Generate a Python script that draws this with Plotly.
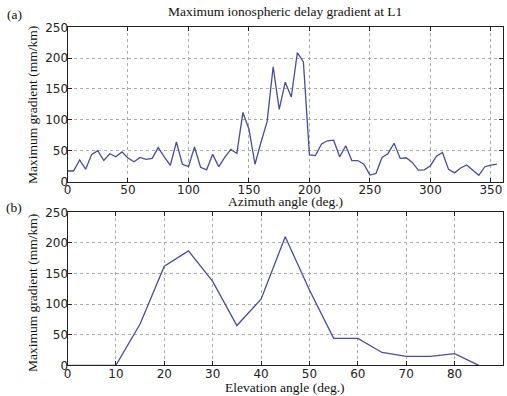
import plotly.graph_objects as go

azimuth = list(range(0, 360, 5))
grad_az = [17, 17, 35, 20, 44, 50, 34, 45, 40, 48, 38, 32, 39, 36, 37.5, 55, 40, 26,
           64, 28, 24, 56, 23, 19, 44, 24, 39, 52, 45.5, 112, 85, 28, 64, 97, 186, 117,
           161, 137, 209, 194, 43, 42, 61, 66, 67, 40, 58, 34, 34, 28, 10.5, 13, 39, 45.5,
           62, 37.5, 38.5, 31, 18.6, 19, 25.6, 41, 47, 19.7, 14, 22, 26.7, 18.6, 10, 24,
           26.7, 28]

elevation = [0, 5, 10, 15, 20, 25, 30, 35, 40, 45, 50, 55, 60, 65, 70, 75, 80, 85]
grad_el = [0, 0, 0, 67.5, 162, 187, 137, 65, 108, 210, 123, 44, 44, 21, 14.7, 14.7, 19, 0]

az_ticks = [0, 50, 100, 150, 200, 250, 300, 350]
el_ticks = [0, 10, 20, 30, 40, 50, 60, 70, 80, 90]
y_ticks = [0, 50, 100, 150, 200, 250]

W, H = 507, 396
line_color = "#4a4aa6"
serif = "Liberation Serif, Times New Roman, serif"
sans = "DejaVu Sans, sans-serif"

fig = go.Figure()
fig.add_trace(go.Scatter(x=azimuth, y=grad_az, mode="lines",
                         line=dict(color=line_color, width=1.3), xaxis="x", yaxis="y",
                         showlegend=False))
fig.add_trace(go.Scatter(x=elevation, y=grad_el, mode="lines",
                         line=dict(color=line_color, width=1.3), xaxis="x2", yaxis="y2",
                         showlegend=False))

xdom = [67.5 / W, 503 / W]
ydom1 = [1 - 181.5 / H, 1 - 27.3 / H]
ydom2 = [1 - 365.3 / H, 1 - 212.3 / H]

common = dict(showline=True, linecolor="#222", linewidth=1, mirror="ticks",
              ticks="inside", ticklen=4, tickcolor="#222",
              showgrid=True, gridcolor="#aaaaaa", griddash="dot", gridwidth=1,
              zeroline=False, automargin=False,
              tickfont=dict(family=sans, size=12, color="#222"))

fig.update_layout(
    width=W, height=H,
    margin=dict(l=0, r=0, t=0, b=0),
    paper_bgcolor="white", plot_bgcolor="white",
    xaxis=dict(domain=xdom, range=[0, 360], tickvals=az_ticks, anchor="y",
               ticklabelstandoff=-3, **common),
    yaxis=dict(domain=ydom1, range=[0, 250], tickvals=y_ticks, anchor="x",
               ticklabelstandoff=-4, **common),
    xaxis2=dict(domain=xdom, range=[0, 90], tickvals=el_ticks, anchor="y2",
                ticklabelstandoff=-3, **common),
    yaxis2=dict(domain=ydom2, range=[0, 250], tickvals=y_ticks, anchor="x2",
                ticklabelstandoff=-4, **common),
)

def ann(text, x, y, size=13.5, angle=0):
    fig.add_annotation(text=text, x=x / W, y=1 - y / H, xref="paper", yref="paper",
                       showarrow=False, textangle=angle, xanchor="center", yanchor="middle",
                       font=dict(family=serif, size=size, color="#111"))

ann("Maximum ionospheric delay gradient at L1", 285, 12)
ann("(a)", 14, 15)
ann("(b)", 14, 207)
ann("Azimuth angle (deg.)", 285, 202)
ann("Elevation angle (deg.)", 285, 387)
ann("Maximum gradient (mm/km)", 32, 105, angle=-90)
ann("Maximum gradient (mm/km)", 32, 293, angle=-90)

fig.write_html("out.html", config={"displayModeBar": False},
               post_script="document.body.style.margin='0';document.body.style.padding='0';document.body.style.overflow='hidden';")
